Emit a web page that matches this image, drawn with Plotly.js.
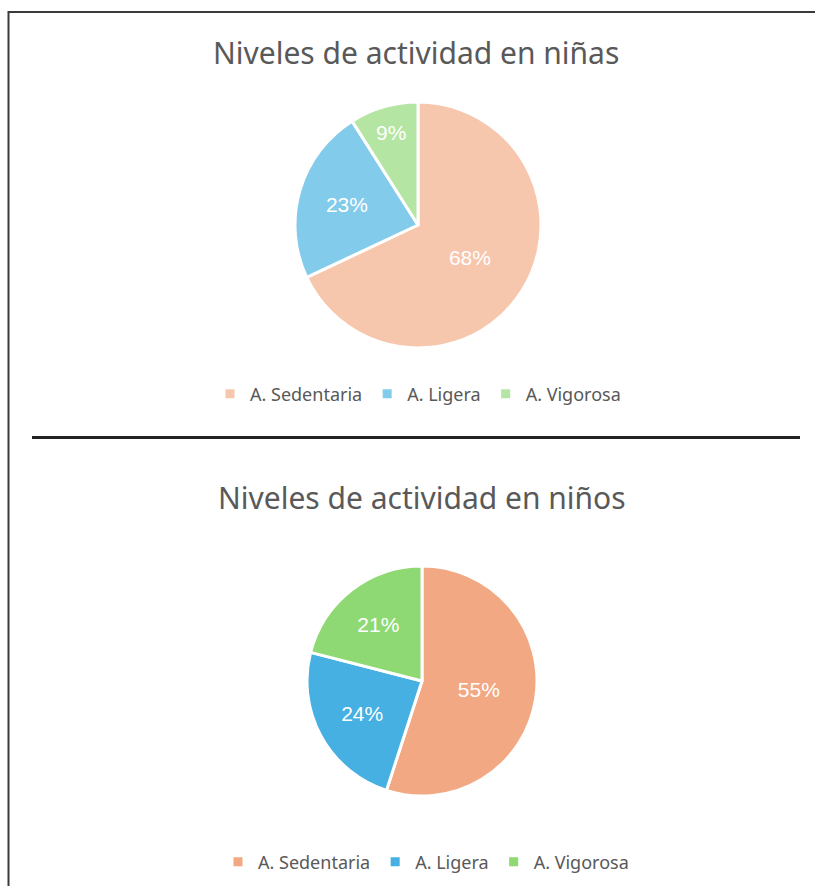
<!DOCTYPE html>
<html>
<head>
<meta charset="utf-8">
<script src="https://cdn.plot.ly/plotly-3.0.1.min.js"></script>
<style>
  html, body { margin: 0; padding: 0; background: #ffffff; }
  #chart { width: 815px; height: 886px; }
</style>
</head>
<body>
<div id="chart"></div>
<script>
// ---- Data ----
const categories = ["A. Sedentaria", "A. Ligera", "A. Vigorosa"];
const ninasValues = [68, 23, 9];
const ninosValues = [55, 24, 21];
const ninasTitle = "Niveles de actividad en niñas";
const ninosTitle = "Niveles de actividad en niños";
const ninasColors = ["#F6C6AD", "#83CBEB", "#B4E5A2"];
const ninosColors = ["#F2A983", "#45B0E1", "#8ED973"];

// ---- Layout helpers (pixel -> paper) ----
const W = 815, H = 886;
const px = v => v / W;
const py = v => 1 - v / H;

const textFont = { family: "Liberation Sans, Arial, sans-serif", size: 21, color: "#ffffff" };
const legendFont = { family: "Noto Sans, Open Sans, sans-serif", size: 18, color: "#595959" };
const titleFont = { family: "Noto Sans, Open Sans, sans-serif", size: 30, color: "#595959" };

const traces = [
  {
    type: "pie",
    labels: categories,
    values: ninasValues,
    marker: { colors: ninasColors, line: { color: "#ffffff", width: 3 } },
    sort: false,
    direction: "clockwise",
    rotation: 0,
    textinfo: "percent",
    textposition: "inside",
    insidetextorientation: "horizontal",
    textfont: textFont,
    hoverinfo: "label+percent",
    domain: { x: [px(295), px(541)], y: [py(348), py(102)] },
    legend: "legend",
    legendgroup: "ninas",
    name: "niñas"
  },
  {
    type: "pie",
    labels: categories,
    values: ninosValues,
    marker: { colors: ninosColors, line: { color: "#ffffff", width: 3 } },
    sort: false,
    direction: "clockwise",
    rotation: 0,
    textinfo: "percent",
    textposition: "inside",
    insidetextorientation: "horizontal",
    textfont: textFont,
    hoverinfo: "label+percent",
    domain: { x: [px(307), px(537)], y: [py(796), py(566)] },
    legend: "legend2",
    legendgroup: "ninos",
    name: "niños"
  }
];

const layout = {
  width: W,
  height: H,
  margin: { l: 0, r: 0, t: 0, b: 0 },
  paper_bgcolor: "#ffffff",
  showlegend: true,
  legend: {
    orientation: "h",
    x: px(418), xanchor: "center",
    y: py(394), yanchor: "middle",
    font: legendFont,
    itemwidth: 30,
    traceorder: "normal"
  },
  legend2: {
    orientation: "h",
    x: px(426), xanchor: "center",
    y: py(862), yanchor: "middle",
    font: legendFont,
    itemwidth: 30,
    traceorder: "normal"
  },
  annotations: [
    { text: ninasTitle, xref: "paper", yref: "paper", x: px(416), y: py(52),
      xanchor: "center", yanchor: "middle", showarrow: false, font: titleFont },
    { text: ninosTitle, xref: "paper", yref: "paper", x: px(422), y: py(497),
      xanchor: "center", yanchor: "middle", showarrow: false, font: titleFont }
  ],
  shapes: [
    { type: "line", xref: "paper", yref: "paper", x0: px(8.5), x1: px(8.5), y0: py(11), y1: py(886),
      line: { color: "#3a3a3a", width: 2 } },
    { type: "line", xref: "paper", yref: "paper", x0: px(8), x1: px(815), y0: py(12), y1: py(12),
      line: { color: "#3a3a3a", width: 2 } },
    { type: "line", xref: "paper", yref: "paper", x0: px(32), x1: px(800), y0: py(437.5), y1: py(437.5),
      line: { color: "#222222", width: 3 } }
  ]
};

Plotly.newPlot("chart", traces, layout, { displayModeBar: false, staticPlot: true });
</script>
</body>
</html>
